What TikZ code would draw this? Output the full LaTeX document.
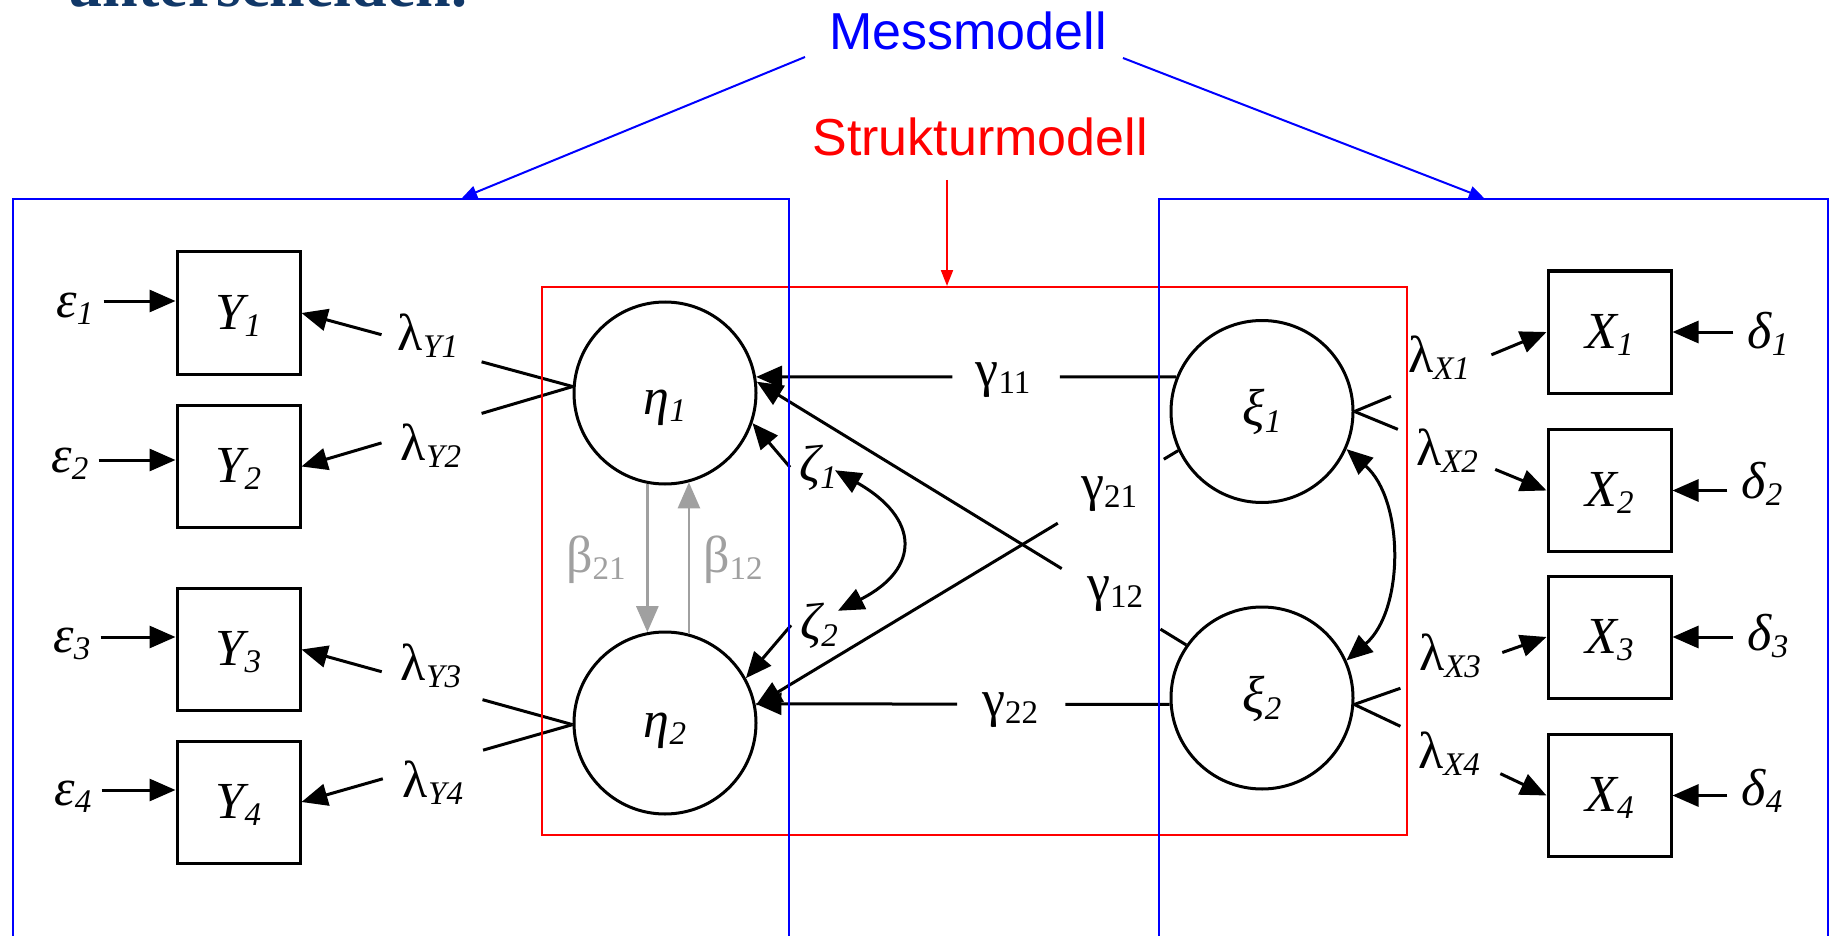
\documentclass[tikz,border=0pt]{standalone}
\usepackage{fontspec}
\setmainfont{Liberation Serif}
\newfontfamily\arialf{Liberation Sans}
\usetikzlibrary{arrows.meta,calc}
\definecolor{navy}{RGB}{17,56,104}
\definecolor{bgray}{RGB}{160,160,160}
\newcommand\lbl{\fontsize{52}{52}\selectfont}
\newcommand\sbs[1]{\raisebox{-7pt}{\fontsize{33}{33}\selectfont #1}}
\newcommand\isbs[1]{\raisebox{-7pt}{\fontsize{33}{33}\selectfont\itshape #1}}
\newcommand\inlbl[2]{\raisebox{-#1pt}[0pt][0pt]{\lbl\itshape #2}}
\newcommand\gapline[5]{%
  \draw[conn] (#2) -- ($(#2)!#4!(#3)$);
  \draw[#1] ($(#2)!#5!(#3)$) -- (#3);}
\begin{document}
\begin{tikzpicture}[x=1pt,y=-1pt,
  lat/.style={circle,draw,line width=3pt,minimum size=182pt,inner sep=0pt},
  obs/.style={rectangle,draw,line width=3pt,minimum width=123pt,minimum height=122pt,inner sep=0pt},
  lab/.style={anchor=base,inner sep=0pt,font=\lbl},
  conn/.style={line width=3pt},
  arr/.style={conn,-{Triangle[length=26pt,width=22pt]}},
  darr/.style={conn,{Triangle[length=26pt,width=22pt]}-{Triangle[length=26pt,width=22pt]}},
  garr/.style={line width=2.6pt,bgray,-{Triangle[length=26pt,width=22pt]}},
  frame/.style={line width=2pt,inner sep=0pt,anchor=north west},
  barr/.style={blue,line width=2pt,-{Triangle[length=15pt,width=13pt]}},
  rarr/.style={red,line width=2pt,-{Triangle[length=16pt,width=12pt]}}
]
\useasboundingbox (0,0) rectangle (1829,936);
\fill[white] (0,0) rectangle (1829,936);

% top text (cut off)
\node[anchor=base west,inner sep=0pt,text=navy,font=\bfseries\fontsize{64}{64}\selectfont] (top) at (67,7) {unterscheiden.};

% latent variables
\node[lat] (eta1) at (665,393) {\inlbl{21}{η\isbs{1}}};
\node[lat] (eta2) at (665,723) {\inlbl{14}{η\isbs{2}}};
\node[lat] (xi1) at (1262,411.5) {\inlbl{14}{ξ\isbs{1}}};
\node[lat] (xi2) at (1262,698) {\inlbl{14}{ξ\isbs{2}}};

% observed variables
\node[obs] (Y1) at (238.5,313) {\inlbl{16}{Y\isbs{1}}};
\node[obs] (Y2) at (238.5,466.5) {\inlbl{16}{Y\isbs{2}}};
\node[obs] (Y3) at (238.5,649.5) {\inlbl{16}{Y\isbs{3}}};
\node[obs] (Y4) at (238.5,802) {\inlbl{16}{Y\isbs{4}}};
\node[obs] (X1) at (1609.5,332) {\inlbl{16}{X\isbs{1}}};
\node[obs] (X2) at (1609.5,490.5) {\inlbl{16}{X\isbs{2}}};
\node[obs] (X3) at (1609.5,637) {\inlbl{16}{X\isbs{3}}};
\node[obs] (X4) at (1609.5,795.5) {\inlbl{16}{X\isbs{4}}};

% error terms
\node[lab,inner xsep=10pt] (e1) at (75,317) {\itshape ε\isbs{1}};
\node[lab,inner xsep=10pt] (e2) at (70,472) {\itshape ε\isbs{2}};
\node[lab,inner xsep=10pt] (e3) at (72,652) {\itshape ε\isbs{3}};
\node[lab,inner xsep=10pt] (e4) at (73,805) {\itshape ε\isbs{4}};
\node[lab,inner xsep=14pt] (d1) at (1768,348) {\itshape δ\isbs{1}};
\node[lab,inner xsep=14pt] (d2) at (1762,498) {\itshape δ\isbs{2}};
\node[lab,inner xsep=14pt] (d3) at (1768,650) {\itshape δ\isbs{3}};
\node[lab,inner xsep=14pt] (d4) at (1762,805) {\itshape δ\isbs{4}};

\coordinate (y1in) at ([yshift=12pt]Y1.west);
\coordinate (y2in) at ([yshift=6.5pt]Y2.west);
\coordinate (y3in) at ([yshift=12.5pt]Y3.west);
\coordinate (y4in) at ([yshift=12pt]Y4.west);
\draw[arr] (e1.east |- y1in) -- (y1in);
\draw[arr] (e2.east |- y2in) -- (y2in);
\draw[arr] (e3.east |- y3in) -- (y3in);
\draw[arr] (e4.east |- y4in) -- (y4in);
\draw[arr] (d1.west |- X1.east) -- (X1.east);
\draw[arr] (d2.west |- X2.east) -- (X2.east);
\draw[arr] (d3.west |- X3.east) -- (X3.east);
\draw[arr] (d4.west |- X4.east) -- (X4.east);

% loadings labels
\node[lab] (ly1) at (428,350) {λ\isbs{Y1}};
\node[lab] (ly2) at (431,460) {λ\isbs{Y2}};
\node[lab] (ly3) at (431,680) {λ\isbs{Y3}};
\node[lab] (ly4) at (433,797) {λ\isbs{Y4}};
\node[lab] (lx1) at (1439,372) {λ\isbs{X1}};
\node[lab] (lx2) at (1447,465) {λ\isbs{X2}};
\node[lab] (lx3) at (1450,670) {λ\isbs{X3}};
\node[lab] (lx4) at (1449,768) {λ\isbs{X4}};

% loadings
\gapline{arr}{eta1.176}{Y1.east}{0.336}{0.705}
\gapline{arr}{eta1.176}{Y2.east}{0.336}{0.705}
\gapline{arr}{eta2.181}{Y3.east}{0.332}{0.704}
\gapline{arr}{eta2.181}{Y4.east}{0.330}{0.700}
\gapline{arr}{xi1.east}{X1.west}{0.190}{0.713}
\gapline{arr}{xi1.east}{X2.west}{0.226}{0.733}
\gapline{arr}{xi2.356}{X3.west}{0.240}{0.770}
\gapline{arr}{xi2.356}{X4.west}{0.240}{0.760}

% structural paths
\node[lab] (g11) at (1003,386) {γ\sbs{11}};
\node[lab] (g21) at (1109,500) {γ\sbs{21}};
\node[lab] (g12) at (1115,600) {γ\sbs{12}};
\node[lab] (g22) at (1010,716) {γ\sbs{22}};
\gapline{arr}{xi1.158}{eta1.10}{0.277}{0.533}
\gapline{arr}{xi2.184}{eta2.12}{0.252}{0.513}
\gapline{arr}{xi2.145}{eta1.7}{0.060}{0.290}
\gapline{arr}{xi1.205}{eta2.11}{0.034}{0.285}

% beta paths
\node[lab,text=bgray] (b21) at (596,572) {β\sbs{21}};
\node[lab,text=bgray] (b12) at (733,572) {β\sbs{12}};
\draw[garr] (eta1.259) -- (eta2.101);
\draw[garr] (eta2.75) -- (eta1.285);

% disturbances
\node[lab,inner xsep=9pt] (z1) at (818,481) {\itshape ζ\isbs{1}};
\node[lab,inner xsep=9pt] (z2) at (819,639) {\itshape ζ\isbs{2}};
\draw[arr] (z1.west) -- (eta1.341);
\draw[arr] (z2.west) -- (eta2.29);
\draw[darr] ([xshift=-11pt,yshift=-3pt]z1.east) .. controls +(85,48) and +(83,-42) .. ([xshift=-9pt,yshift=14.5pt]z2.east);
\draw[darr] (xi1.336) .. controls +(58,51) and +(58,-50) .. (xi2.24);

% frames
\node[frame,draw=red,minimum width=865pt,minimum height=548pt] (sm) at (541,286) {};
\node[frame,draw=blue,minimum width=776pt,minimum height=780pt] (mL) at (12,198) {};
\node[frame,draw=blue,minimum width=669pt,minimum height=780pt] (mR) at (1158,198) {};

% headings
\node[anchor=base,inner sep=0pt,text=blue,font=\arialf\fontsize{52}{52}\selectfont] (mess) at (968,50) {Messmodell};
\node[anchor=base,inner sep=0pt,text=red,font=\arialf\fontsize{52}{52}\selectfont] (struk) at (980,156) {Strukturmodell};
\coordinate (mA) at (805,57);
\coordinate (mAt) at (462,198);
\coordinate (mB) at (1123,58);
\coordinate (mBt) at (1484,198);
\draw[barr] (mA) -- (mAt);
\draw[barr] (mB) -- (mBt);
\coordinate (sA) at (947,180);
\draw[rarr] (sA) -- (sA |- sm.north);
\end{tikzpicture}
\end{document}
